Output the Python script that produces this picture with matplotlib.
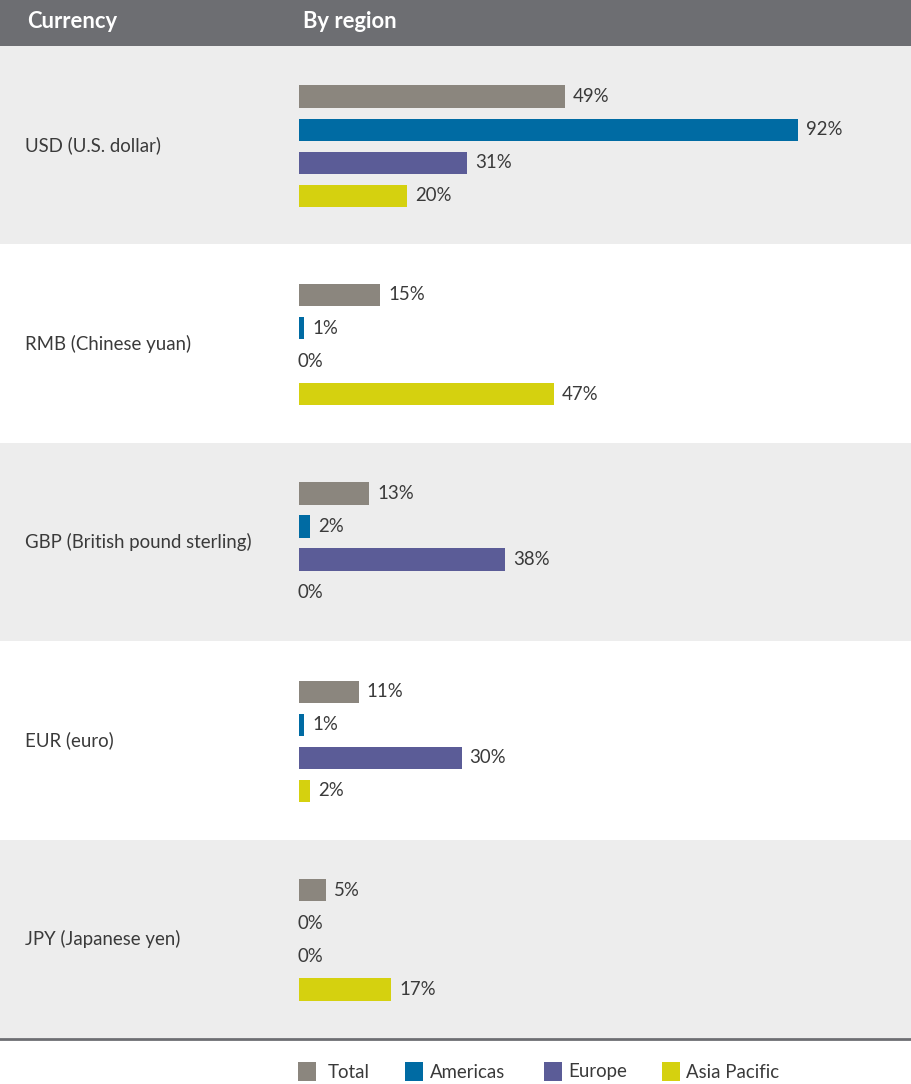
import matplotlib
matplotlib.use("Agg")
import matplotlib.pyplot as plt
from matplotlib.patches import Rectangle

plt.rcParams['font.family'] = ['Lato', 'DejaVu Sans']

currencies = ["USD (U.S. dollar)", "RMB (Chinese yuan)", "GBP (British pound sterling)",
              "EUR (euro)", "JPY (Japanese yen)"]
regions = ["Total", "Americas", "Europe", "Asia Pacific"]
total = [49, 15, 13, 11, 5]
americas = [92, 1, 2, 1, 0]
europe = [31, 0, 38, 30, 0]
asia_pacific = [20, 47, 0, 2, 17]
series = [total, americas, europe, asia_pacific]
colors = ["#8b867e", "#006ba3", "#5b5c97", "#d5d10f"]

W, H = 912, 1084
fig = plt.figure(figsize=(W / 100, H / 100), dpi=100)
fig.patch.set_facecolor("white")

# header band
fig.patches.append(Rectangle((0, 1 - 46 / H), 1, 46 / H, transform=fig.transFigure,
                             facecolor="#6d6e72", edgecolor="none", zorder=0))
fig.text(27 / W, 1 - 22 / H, "Currency", color="white", fontsize=15.8, fontweight="bold",
         va="center", ha="left")
fig.text(303 / W, 1 - 22 / H, "By region", color="white", fontsize=15.8, fontweight="bold",
         va="center", ha="left")

# main axes: rows area from y=46 to y=1038
top_px, bot_px = 46, 1038
ax = fig.add_axes([0, 1 - bot_px / H, 1, (bot_px - top_px) / H])
px_per_pct = 5.42
x0 = 299
ax.set_xlim(-x0 / px_per_pct, (W - x0) / px_per_pct)
n = len(currencies)
ax.set_ylim(n, 0)
ax.axis("off")

for i in range(n):
    if i % 2 == 0:
        ax.axhspan(i, i + 1, color="#ededed", zorder=0, lw=0)

offsets = [-0.245, -0.078, 0.088, 0.255]
bar_h = 0.112
gap = 8 / px_per_pct
fs = 13.4
for s, (vals, col) in enumerate(zip(series, colors)):
    ys = [i + 0.5 + offsets[s] for i in range(n)]
    ax.barh(ys, vals, height=bar_h, color=col, zorder=2, lw=0)
    for y, v in zip(ys, vals):
        xx = v + gap if v > 0 else -0.2
        ax.text(xx, y, f"{v}%", va="center", ha="left", fontsize=fs, color="#3a3a3a", zorder=3)

for i, c in enumerate(currencies):
    ax.text(-x0 / px_per_pct + 25 / px_per_pct, i + 0.5, c, va="center", ha="left",
            fontsize=fs, color="#3a3a3a")

# bottom rule
fig.add_artist(plt.Line2D([0, 1], [1 - 1039 / H, 1 - 1039 / H], transform=fig.transFigure,
                          color="#6d6e72", lw=2))

# legend
sq_x = [298, 405, 544, 662]
tx_x = [328, 430, 568, 686]
ly = 1071
for sx, tx, col, lab in zip(sq_x, tx_x, colors, regions):
    fig.patches.append(Rectangle((sx / W, 1 - (ly + 9.5) / H), 18 / W, 19 / H,
                                 transform=fig.transFigure, facecolor=col, edgecolor="none"))
    fig.text(tx / W, 1 - (ly + 1) / H, lab, va="center", ha="left", fontsize=fs, color="#3a3a3a")

fig.savefig("out.png", dpi=100)
